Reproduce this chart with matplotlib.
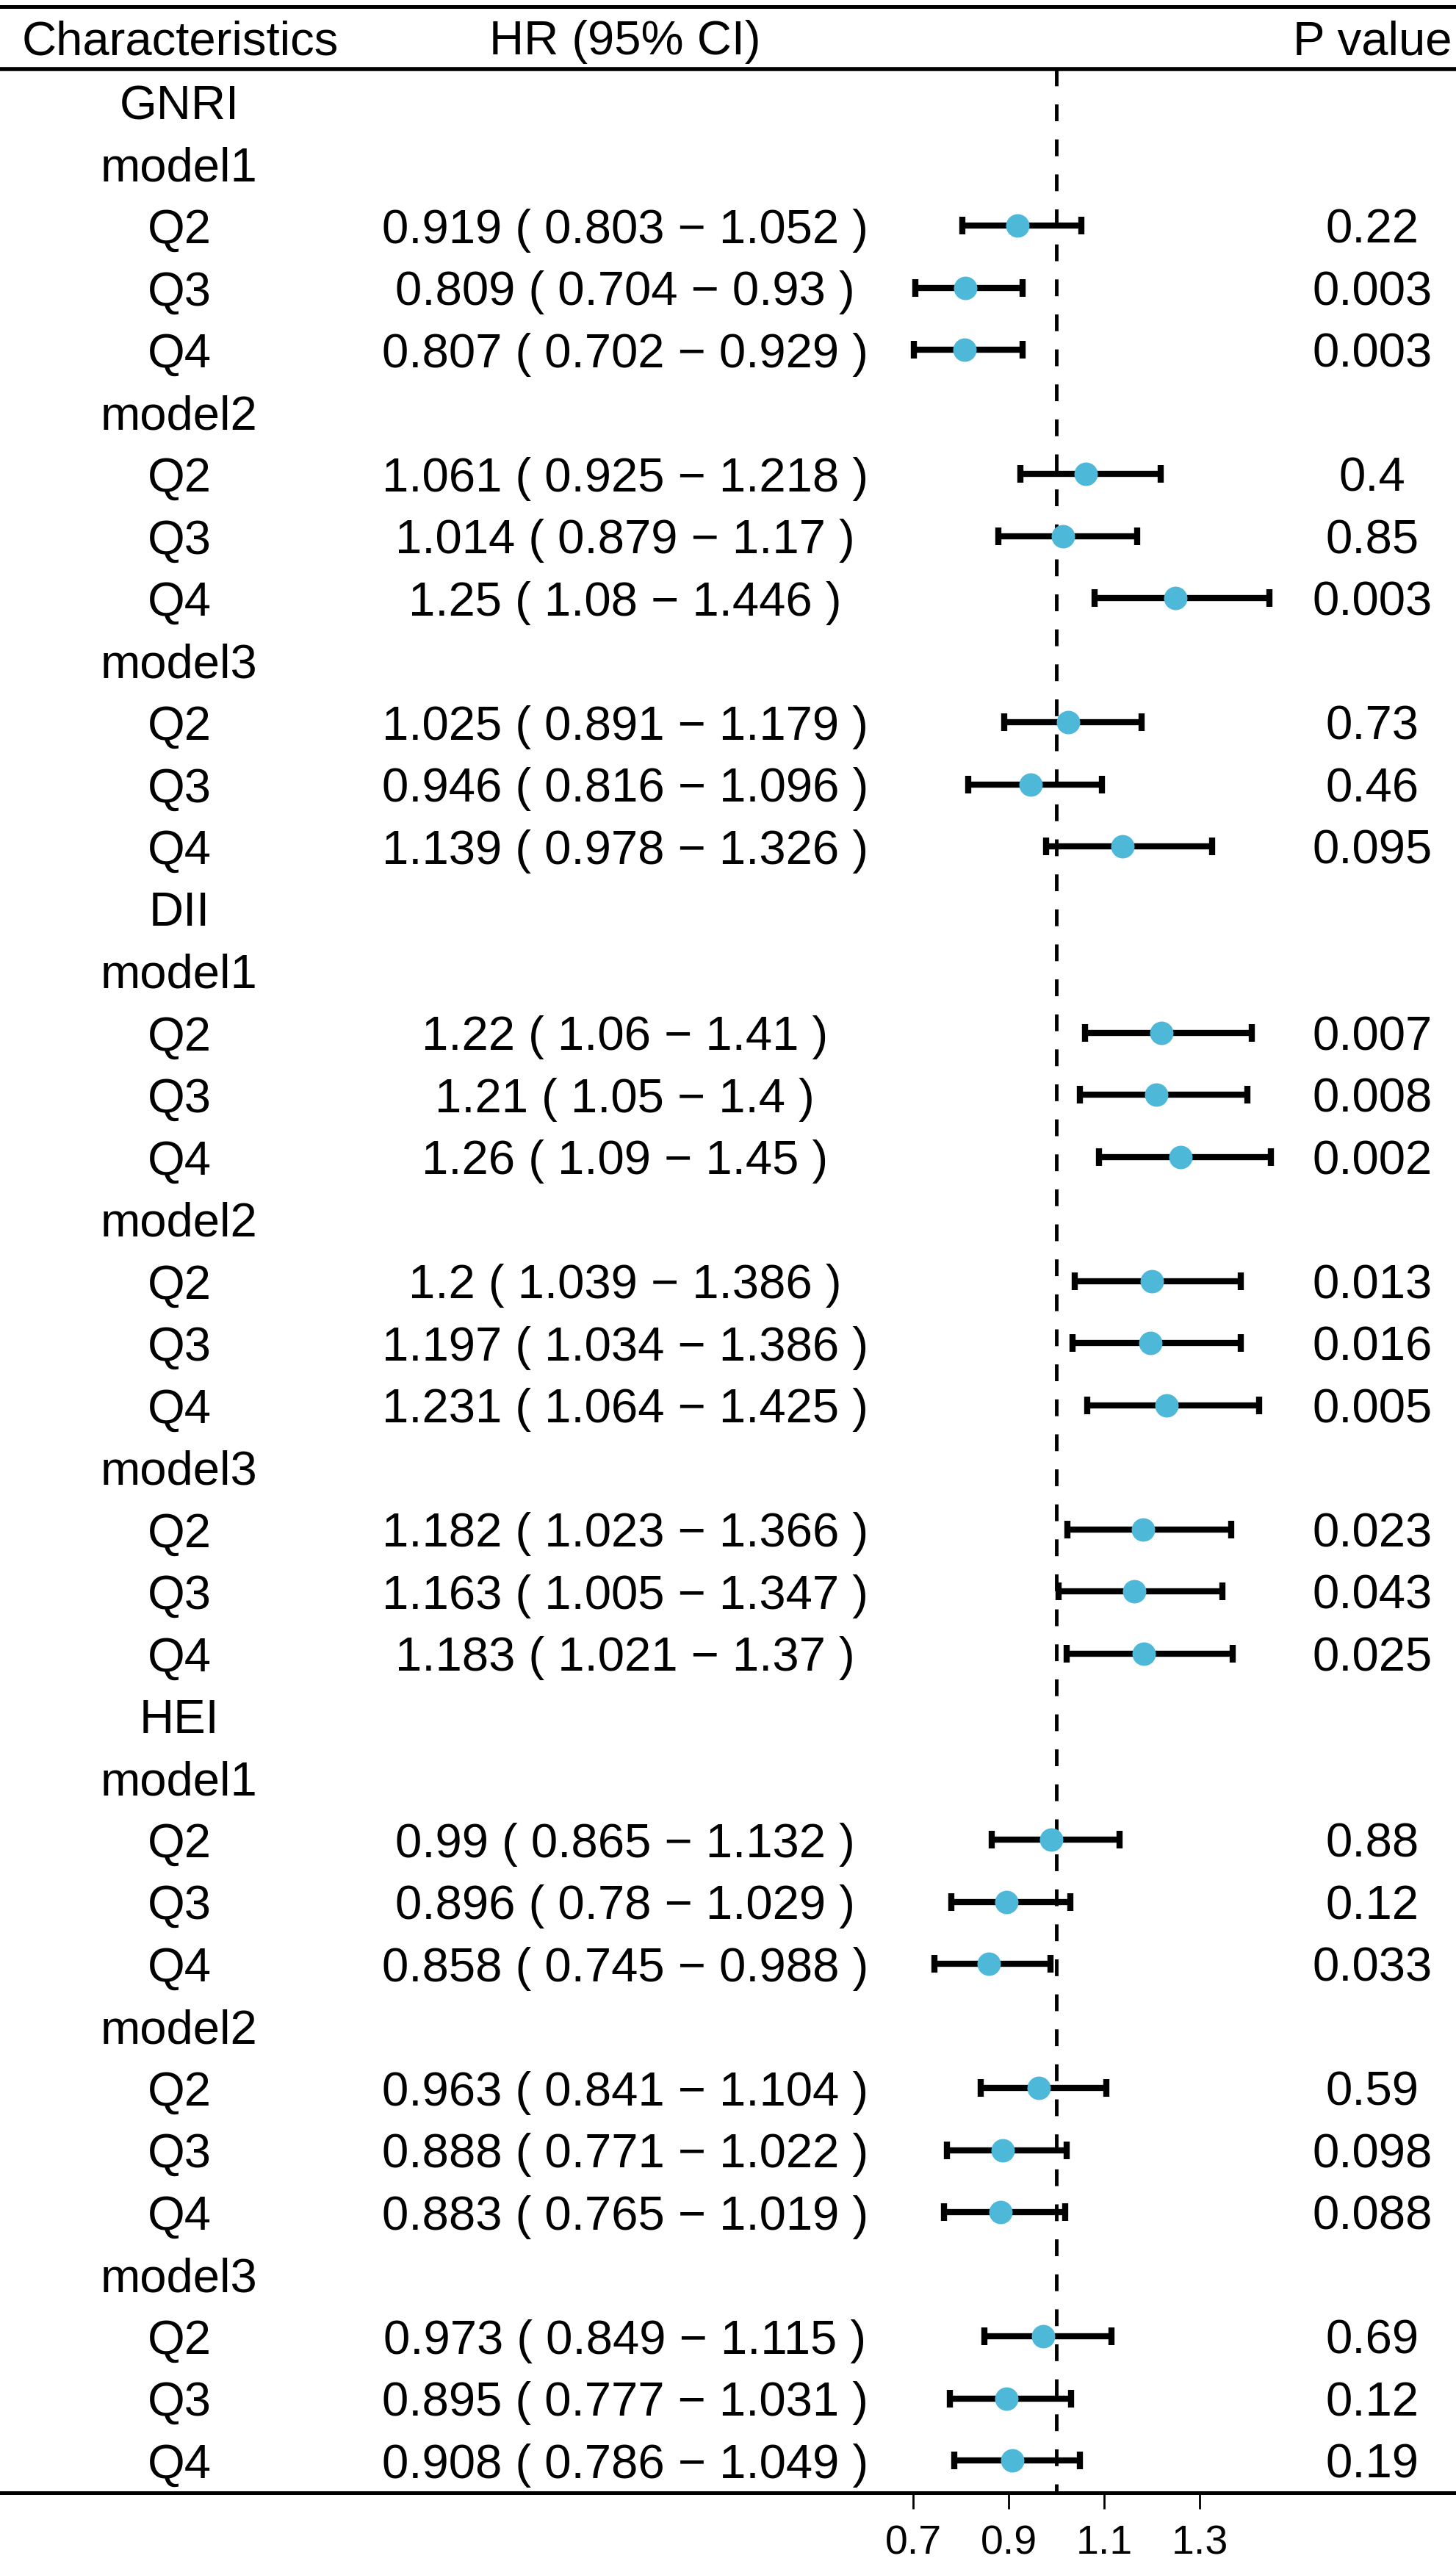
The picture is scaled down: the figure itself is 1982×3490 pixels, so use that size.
import numpy as np
import matplotlib.pyplot as plt

plt.rcParams['font.family'] = ['Liberation Sans', 'DejaVu Sans']

# data
groups = ["GNRI", "DII", "HEI"]
models = ["model1", "model2", "model3"]
quartiles = ["Q2", "Q3", "Q4"]

hr = [0.919, 0.809, 0.807, 1.061, 1.014, 1.25, 1.025, 0.946, 1.139,
      1.22, 1.21, 1.26, 1.2, 1.197, 1.231, 1.182, 1.163, 1.183,
      0.99, 0.896, 0.858, 0.963, 0.888, 0.883, 0.973, 0.895, 0.908]
lo = [0.803, 0.704, 0.702, 0.925, 0.879, 1.08, 0.891, 0.816, 0.978,
      1.06, 1.05, 1.09, 1.039, 1.034, 1.064, 1.023, 1.005, 1.021,
      0.865, 0.78, 0.745, 0.841, 0.771, 0.765, 0.849, 0.777, 0.786]
hi = [1.052, 0.93, 0.929, 1.218, 1.17, 1.446, 1.179, 1.096, 1.326,
      1.41, 1.4, 1.45, 1.386, 1.386, 1.425, 1.366, 1.347, 1.37,
      1.132, 1.029, 0.988, 1.104, 1.022, 1.019, 1.115, 1.031, 1.049]
pval = ["0.22", "0.003", "0.003", "0.4", "0.85", "0.003", "0.73", "0.46", "0.095",
        "0.007", "0.008", "0.002", "0.013", "0.016", "0.005", "0.023", "0.043", "0.025",
        "0.88", "0.12", "0.033", "0.59", "0.098", "0.088", "0.69", "0.12", "0.19"]
xticks = [0.7, 0.9, 1.1, 1.3]

# build the row layout
labels = []
data_rows = []
for g in groups:
    labels.append(g)
    for m in models:
        labels.append(m)
        for q in quartiles:
            data_rows.append(len(labels))
            labels.append(q)
n_rows = len(labels)

hr = np.array(hr)
lo = np.array(lo)
hi = np.array(hi)
ypos = np.array(data_rows)

fig = plt.figure(figsize=(19.83, 34.90), dpi=100)
ax = fig.add_axes([0, 0.0278, 1, 0.9696])
ax.set_xlim(-1.2123, 1.8385)
ax.set_ylim(n_rows - 0.48, -1.53)

fs = 47
tr = ax.get_yaxis_transform()
off = 0.28   # half cap height in row units

# header
ax.text(0.0151, -0.76, "Characteristics", transform=tr, ha='left', va='baseline', fontsize=fs)
ax.text(0.429, -0.76, "HR (95% CI)", transform=tr, ha='center', va='baseline', fontsize=fs)
ax.text(0.9965, -0.76, "P value", transform=tr, ha='right', va='baseline', fontsize=fs)
ax.axhline(-0.53, color='black', lw=4)

for i, lab in enumerate(labels):
    ax.text(0.123, i + off, lab, transform=tr, ha='center', va='baseline', fontsize=fs)

for k, r in enumerate(data_rows):
    txt = "%s ( %s \u2212 %s )" % (format(hr[k], 'g'), format(lo[k], 'g'), format(hi[k], 'g'))
    ax.text(0.429, r + off, txt, transform=tr, ha='center', va='baseline', fontsize=fs)
    ax.text(0.942, r + off, pval[k], transform=tr, ha='center', va='baseline', fontsize=fs)

# reference line
ax.plot([1, 1], [-0.53, n_rows - 0.48], color='black', lw=3.5, ls=(0, (4.7, 5.1)), zorder=1)

ax.errorbar(hr, ypos, xerr=[hr - lo, hi - hr], fmt='none', ecolor='black',
            elinewidth=6, capsize=8.5, capthick=6, zorder=2)
ax.plot(hr, ypos, 'o', color='#4DB8D8', markersize=23, markeredgewidth=0, zorder=3)

for s in ['left', 'right']:
    ax.spines[s].set_visible(False)
ax.spines['top'].set_linewidth(3.6)
ax.spines['bottom'].set_linewidth(3.6)
ax.set_yticks([])
ax.set_xticks(xticks)
ax.set_xticklabels([str(t) for t in xticks])
ax.tick_params(axis='x', length=16, width=2, pad=15, labelsize=40, direction='out')

fig.savefig("out.png", dpi=100)
